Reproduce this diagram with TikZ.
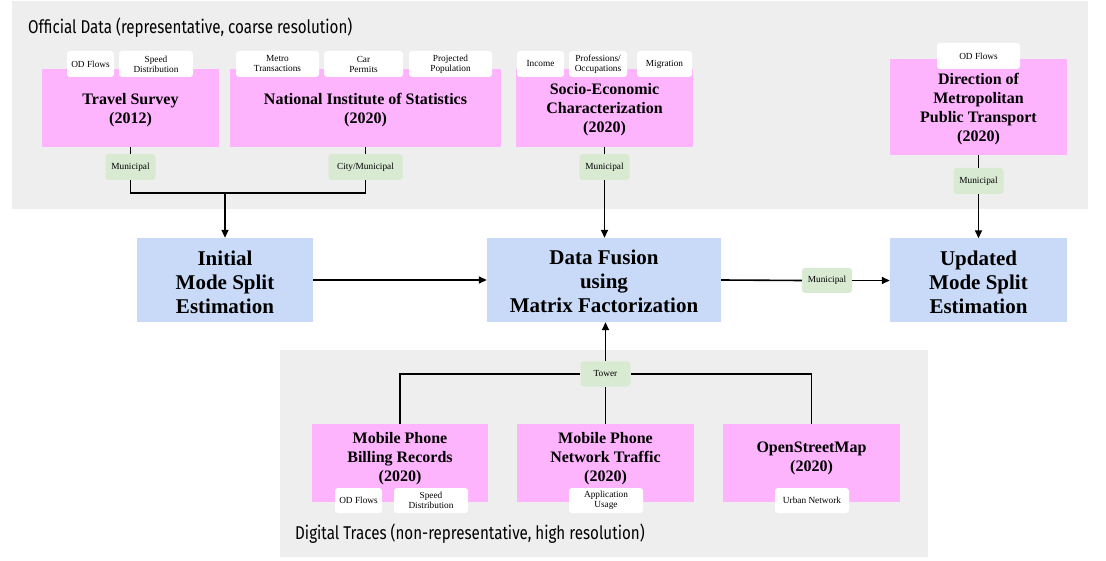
\documentclass[tikz,border=0pt]{standalone}
\usepackage{fontspec}
\setmainfont{Liberation Serif}
\newfontfamily\grpfont{Fira Sans}[FakeStretch=0.82]
\usetikzlibrary{arrows.meta}
\definecolor{panelgray}{RGB}{238,238,238}
\definecolor{srcpink}{RGB}{253,180,253}
\definecolor{mainblue}{RGB}{201,218,248}
\definecolor{taggreen}{RGB}{217,234,211}
\tikzset{
  panel/.style={fill=panelgray, draw=none},
  srcbox/.style={fill=srcpink, draw=none, inner sep=0pt},
  srctext/.style={inner sep=0pt, align=center, font=\fontsize{16}{19}\selectfont\bfseries},
  mainbox/.style={fill=mainblue, draw=none, inner sep=0pt},
  maintext/.style={inner sep=0pt, align=center, font=\fontsize{21}{24}\selectfont\bfseries},
  wtag/.style={fill=white, draw=none, rounded corners=3pt, inner sep=0pt, align=center,
    minimum height=26pt, font=\fontsize{9.3}{10}\selectfont},
  gtag/.style={fill=taggreen, draw=none, rounded corners=3pt, inner sep=0pt, align=center,
    minimum height=26pt, minimum width=50pt, font=\fontsize{9.3}{10}\selectfont},
  grplabel/.style={inner sep=0pt, anchor=base west, font=\grpfont\fontsize{18.5}{21}\selectfont},
  conn/.style={line width=1.6pt, black},
  arr/.style={conn, -{Triangle[length=8pt,width=7pt]}}
}
\begin{document}
\begin{tikzpicture}[x=1pt,y=-1pt]
\useasboundingbox[fill=white] (0,0) rectangle (1106,561);
% panels
\fill[panel] (12,1) rectangle (1088,209);
\fill[panel] (280,350) rectangle (928,557);
\node[grplabel] (lblofficial) at (28,34) {Official Data (representative, coarse resolution)};
\node[grplabel] (lbldigital) at (295,539) {Digital Traces (non-representative, high resolution)};

% official sources
\node[srcbox, minimum width=177pt, minimum height=78pt] (travel) at (130.5,108) {};
\node[srcbox, minimum width=271pt, minimum height=78pt] (nat) at (365.5,108) {};
\node[srcbox, minimum width=177pt, minimum height=78pt] (socio) at (604.5,108) {};
\node[srcbox, minimum width=177pt, minimum height=96pt] (direction) at (978.5,107) {};
\node[srctext] (traveltxt) at (130.5,110) {Travel Survey\\(2012)};
\node[srctext] (nattxt) at (365.5,110) {National Institute of Statistics\\(2020)};
\node[srctext] (sociotxt) at (604.5,110) {Socio-Economic\\Characterization\\(2020)};
\node[srctext] (directiontxt) at (978.5,109) {Direction of\\Metropolitan\\Public Transport\\(2020)};

% white tags (top)
\node[wtag, minimum width=47pt] (tod1) at (90.5,64) {OD Flows};
\node[wtag, minimum width=74pt] (tspeed1) at (156,64) {Speed\\Distribution};
\node[wtag, minimum width=83pt] (tmetro) at (277.5,64) {Metro\\Transactions};
\node[wtag, minimum width=79pt] (tcar) at (363.5,64) {Car\\Permits};
\node[wtag, minimum width=83pt] (tproj) at (450.5,64) {Projected\\Population};
\node[wtag, minimum width=47pt] (tincome) at (540.5,64) {Income};
\node[wtag, minimum width=58pt] (tprof) at (598,64) {Professions/\\Occupations};
\node[wtag, minimum width=55pt] (tmigr) at (664.5,64) {Migration};
\node[wtag, minimum width=83pt] (tod2) at (978.5,56) {OD Flows};

% green tags
\node[gtag] (gmuni1) at (130.5,167) {Municipal};
\node[gtag, minimum width=74pt] (gcity) at (365.5,167) {City/Municipal};
\node[gtag] (gmuni2) at (604.5,167) {Municipal};
\node[gtag] (gmuni3) at (978.5,181) {Municipal};
\node[gtag, minimum height=25pt] (gmuni4) at (827,280.5) {Municipal};
\node[gtag, minimum height=25pt] (gtower) at (605.5,374) {Tower};

% main boxes
\node[mainbox, minimum width=176pt, minimum height=84pt] (initial) at (225,280) {};
\node[mainbox, minimum width=234pt, minimum height=84pt] (fusion) at (604,280) {};
\node[mainbox, minimum width=177pt, minimum height=84pt] (updated) at (978.5,280.5) {};
\node[maintext] (initialtxt) at (225,282) {Initial\\Mode Split\\Estimation};
\node[maintext] (fusiontxt) at (604,281.5) {Data Fusion\\using\\Matrix Factorization};
\node[maintext] (updatedtxt) at (978.5,282) {Updated\\Mode Split\\Estimation};

% digital sources
\node[srcbox, minimum width=176pt, minimum height=78pt] (billing) at (400,463) {};
\node[srcbox, minimum width=177pt, minimum height=78pt] (traffic) at (605.5,463) {};
\node[srcbox, minimum width=177pt, minimum height=78pt] (osm) at (811.5,463) {};
\node[srctext] (billingtxt) at (400,458.5) {Mobile Phone\\Billing Records\\(2020)};
\node[srctext] (traffictxt) at (605.5,458.5) {Mobile Phone\\Network Traffic\\(2020)};
\node[srctext] (osmtxt) at (811.5,458.5) {OpenStreetMap\\(2020)};

% white tags (bottom)
\node[wtag, minimum width=47pt, minimum height=25pt] (bod) at (358.5,500.5) {OD Flows};
\node[wtag, minimum width=74pt, minimum height=25pt] (bspeed) at (431,500.5) {Speed\\Distribution};
\node[wtag, minimum width=74pt, minimum height=25pt] (bapp) at (606,500.5) {Application\\Usage};
\node[wtag, minimum width=74pt, minimum height=25pt] (burban) at (812,500.5) {Urban Network};

% connectors
\coordinate (j1) at (225,193);
\draw[conn] (travel.south) -- (gmuni1.north);
\draw[conn] (nat.south) -- (gcity.north);
\draw[conn] (gmuni1.south) |- (j1) -| (gcity.south);
\draw[arr] (j1) -- (initial.north);
\draw[conn] (socio.south) -- (gmuni2.north);
\draw[arr] (gmuni2.south) -- (fusion.north -| gmuni2.south);
\draw[conn] (direction.south) -- (gmuni3.north);
\draw[arr] (gmuni3.south) -- (updated.north -| gmuni3.south);
\draw[arr] (initial.east) -- (fusion.west);
\draw[conn] (fusion.east) -- (gmuni4.west);
\draw[arr] (gmuni4.east) -- (updated.west);
\draw[conn] (billing.north) |- (gtower.west);
\draw[conn] (osm.north) |- (gtower.east);
\draw[conn] (traffic.north) -- (gtower.south);
\draw[arr] (gtower.north) -- (fusion.south -| gtower.north);
\end{tikzpicture}
\end{document}
